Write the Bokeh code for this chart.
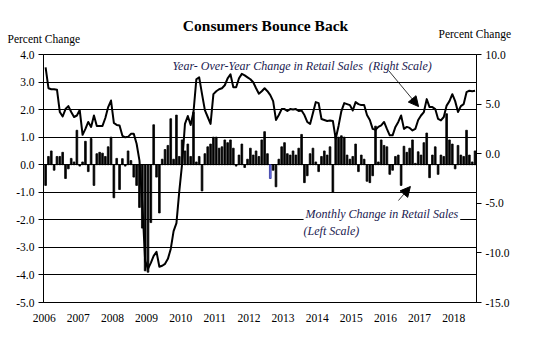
from bokeh.plotting import figure
from bokeh.layouts import column
from bokeh.models import (Range1d, LinearAxis, FixedTicker, PrintfTickFormatter,
                          Label, Arrow, NormalHead, ColumnDataSource)
from bokeh.embed import file_html
from bokeh.resources import INLINE

# ---------------- data ----------------
years = list(range(2006, 2019))
year_labels = [str(y) for y in years]
left_ticks = [-5, -4, -3, -2, -1, 0, 1, 2, 3, 4]
right_ticks = [-15, -10, -5, 0, 5, 10]

# Monthly % change in retail sales (left scale), Jan 2006 - Aug 2018
monthly_change = [
    -0.75, 0.30, 0.50, -0.20, 0.30, 0.30, 0.45, -0.50, -0.15, 0.23, 0.10, 1.25,   # 2006
    -0.05, 0.10, 0.85, -0.25, 0.95, -0.75, 0.40, 0.45, 0.42, 0.30, 0.65, 1.00,    # 2007
    -1.20, 0.23, -0.90, 0.22, -0.05, 0.50, 0.15, -0.45, -0.75, -1.55, -2.30, -3.85,  # 2008
    -3.90, -2.10, 1.45, -0.45, -1.75, 0.20, 0.55, 0.70, 1.67, 0.20, 1.80, 0.30,   # 2009
    0.90, 0.50, 0.75, 0.30, 1.90, 0.10, 0.30, -0.95, 0.40, 0.65, 0.75, 1.00,      # 2010
    1.00, 0.60, 0.65, 0.90, 0.80, 0.90, 0.60, -0.05, 0.35, 0.75, -0.10, 0.20,     # 2011
    0.60, 0.35, 0.50, 0.30, 0.90, 1.20, 0.40, -0.50, -0.20, -0.80, 0.20, 0.65,    # 2012
    0.80, 0.40, 0.35, 0.50, 0.35, 0.60, 1.10, -0.65, -0.40, 0.40, 0.60, 0.10,     # 2013
    -0.25, 0.30, 0.50, 0.35, 0.65, -1.00, 1.05, 1.00, 1.05, 1.00, 0.35, 0.20,     # 2014
    0.30, 0.75, -0.25, 0.35, 0.20, -0.60, -0.65, -0.40, 1.40, 0.10, 0.90, 0.70,   # 2015
    0.65, -0.35, -0.20, 0.30, 0.35, -0.75, 0.67, 0.45, 0.60, 0.90, 0.05, 0.47,    # 2016
    0.35, 0.80, 1.15, -0.47, 0.35, 0.65, -0.35, 0.35, 0.30, 1.85, 0.90, 0.75,     # 2017
    -0.15, 0.70, 0.35, 0.30, 1.25, 0.35, 0.10, 0.50,                              # 2018
]

# Year-over-year % change in retail sales (right scale)
yoy_change = [
    8.7, 6.6, 6.5, 6.5, 6.45, 4.2, 3.75, 4.5, 4.8, 4.2, 3.7, 3.85,        # 2006
    4.4, 1.9, 2.5, 3.2, 2.7, 3.85, 2.8, 2.8, 2.8, 3.6, 4.7, 5.36,         # 2007
    3.1, 2.9, 2.85, 1.8, 1.65, 1.7, 2.0, 2.0, 1.0, -0.7, -5.0, -10.8,     # 2008
    -11.6, -11.0, -10.3, -9.9, -11.4, -11.3, -11.1, -10.6, -9.6, -7.8, -7.0, -3.8,  # 2009
    -1.0, 3.0, 3.8, 2.9, 4.2, 7.5, 7.7, 6.0, 4.4, 3.7, 3.0, 6.0,          # 2010
    6.3, 6.5, 6.6, 6.9, 7.6, 8.0, 6.7, 6.7, 7.6, 8.05, 7.9, 7.7,          # 2011
    7.5, 7.2, 6.6, 6.05, 6.3, 6.6, 6.3, 5.9, 5.3, 3.4, 3.9, 4.5,          # 2012
    4.5, 4.3, 4.5, 4.45, 4.5, 4.3, 4.35, 3.9, 3.2, 3.0, 4.1, 5.2,         # 2013
    5.1, 3.5, 3.4, 3.3, 3.35, 3.3, 1.5, 2.8, 4.3, 5.1, 5.0, 4.9,          # 2014
    4.35, 5.2, 5.0, 4.9, 4.9, 3.9, 3.4, 2.5, 2.4, 2.7, 2.85, 3.2,         # 2015
    2.5, 1.85, 1.85, 2.7, 3.2, 3.85, 2.5, 2.7, 2.6, 2.35, 2.5, 3.4,       # 2016
    3.85, 4.2, 5.5, 4.7, 4.7, 4.5, 3.5, 3.35, 3.7, 4.85, 5.3, 6.0,        # 2017
    5.3, 4.2, 4.8, 5.0, 6.2, 6.35, 6.3, 6.35,                             # 2018
]

highlight_month = 79  # the one bar drawn in blue

# month positions in decimal years (mid-month)
x_month = [years[0] + (i + 0.5) / 12 for i in range(len(monthly_change))]
bar_fill = ["#7078f2" if i == highlight_month else "black" for i in range(len(monthly_change))]
bar_line = ["#2b2f99" if i == highlight_month else "black" for i in range(len(monthly_change))]

SERIF = "Liberation Serif"
NAVY = "#1a1a50"
W = 551
HEAD_H = 46

# ---------------- header (title + unit labels) ----------------
head = figure(width=W, height=HEAD_H, output_backend="svg", toolbar_location=None,
              x_range=Range1d(0, W), y_range=Range1d(HEAD_H, 0),
              x_axis_type=None, y_axis_type=None, min_border=0,
              min_border_left=0, min_border_right=0, min_border_top=0, min_border_bottom=0,
              frame_align=False)
head.outline_line_color = None
head.grid.visible = False
head.background_fill_color = "white"
head.border_fill_color = "white"
head.add_layout(Label(x=265, y=25, text="Consumers Bounce Back", text_font=SERIF,
                      text_font_size="15.5px", text_font_style="bold", text_align="center",
                      text_baseline="middle", text_color="black"))
head.add_layout(Label(x=7, y=38, text="Percent Change", text_font=SERIF,
                      text_font_size="11.5px", text_align="left", text_baseline="middle",
                      text_color="black"))
head.add_layout(Label(x=438, y=33.5, text="Percent Change", text_font=SERIF,
                      text_font_size="11.5px", text_align="left", text_baseline="middle",
                      text_color="black"))

# ---------------- chart ----------------
p = figure(width=W, height=345 - HEAD_H, output_backend="svg", toolbar_location=None,
           x_range=Range1d(2005.98, 2018.667), y_range=Range1d(-5, 4),
           min_border_left=43, min_border_right=75, min_border_top=54 - HEAD_H,
           min_border_bottom=43, frame_align=False)
p.outline_line_color = "black"
p.outline_line_width = 1
p.background_fill_color = "white"
p.border_fill_color = "white"

p.xgrid.visible = False
p.ygrid.ticker = FixedTicker(ticks=left_ticks)
p.ygrid.grid_line_color = "black"
p.ygrid.grid_line_width = 1

xa = p.xaxis[0]
xa.ticker = FixedTicker(ticks=years)
xa.major_label_overrides = {y: s for y, s in zip(years, year_labels)}
xa.major_tick_line_color = None
xa.minor_tick_line_color = None
xa.axis_line_color = "black"
xa.major_label_text_font = SERIF
xa.major_label_text_font_size = "11.5px"
xa.major_label_text_color = "black"
xa.major_label_standoff = 5

ya = p.yaxis[0]
ya.ticker = FixedTicker(ticks=left_ticks)
ya.formatter = PrintfTickFormatter(format="%.1f")
ya.major_tick_out = 5
ya.major_tick_in = 0
ya.minor_tick_line_color = None
ya.axis_line_color = "black"
ya.major_tick_line_color = "black"
ya.major_label_text_font = SERIF
ya.major_label_text_font_size = "11.5px"
ya.major_label_text_color = "black"
ya.major_label_standoff = 4

p.extra_y_ranges = {"right": Range1d(-15, 10)}
ra = LinearAxis(y_range_name="right", ticker=FixedTicker(ticks=right_ticks),
                formatter=PrintfTickFormatter(format="%.1f"))
ra.major_tick_out = 5
ra.major_tick_in = 0
ra.minor_tick_line_color = None
ra.axis_line_color = "black"
ra.major_label_text_font = SERIF
ra.major_label_text_font_size = "11.5px"
ra.major_label_text_color = "black"
ra.major_label_standoff = 4
p.add_layout(ra, "right")

# bars
src = ColumnDataSource(dict(x=x_month, top=monthly_change, fill=bar_fill, line=bar_line))
p.vbar(x="x", top="top", bottom=0, width=0.6 / 12, source=src,
       fill_color="fill", line_color="line", line_width=0.8)

# line
p.line(x=x_month, y=yoy_change, y_range_name="right", line_color="black",
       line_width=2, line_join="round")

# annotations
p.add_layout(Label(x=2009.76, y=3.565, text="Year- Over-Year Change in Retail Sales\u00a0 (Right Scale)",
                   text_font=SERIF, text_font_size="12px", text_font_style="italic",
                   text_align="left", text_baseline="middle", text_color=NAVY))
p.add_layout(Label(x=2013.6, y=-1.805, text="Monthly Change in Retail Sales",
                   text_font=SERIF, text_font_size="12px", text_font_style="italic",
                   text_align="left", text_baseline="middle", text_color=NAVY,
                   background_fill_color="white", padding=2))
p.add_layout(Label(x=2013.6, y=-2.42, text="(Left Scale)",
                   text_font=SERIF, text_font_size="12px", text_font_style="italic",
                   text_align="left", text_baseline="middle", text_color=NAVY))

p.add_layout(Arrow(x_start=2016.09, y_start=3.42, x_end=2016.97, y_end=2.11,
                   line_color="black", line_width=0.8,
                   end=NormalHead(size=10, fill_color="black", line_color="black")))
p.add_layout(Arrow(x_start=2016.38, y_start=-1.30, x_end=2016.73, y_end=-0.79,
                   line_color="black", line_width=0.8,
                   end=NormalHead(size=10, fill_color="black", line_color="black")))

layout = column(head, p, spacing=0)
open("out.html", "w").write(file_html(layout, INLINE))
